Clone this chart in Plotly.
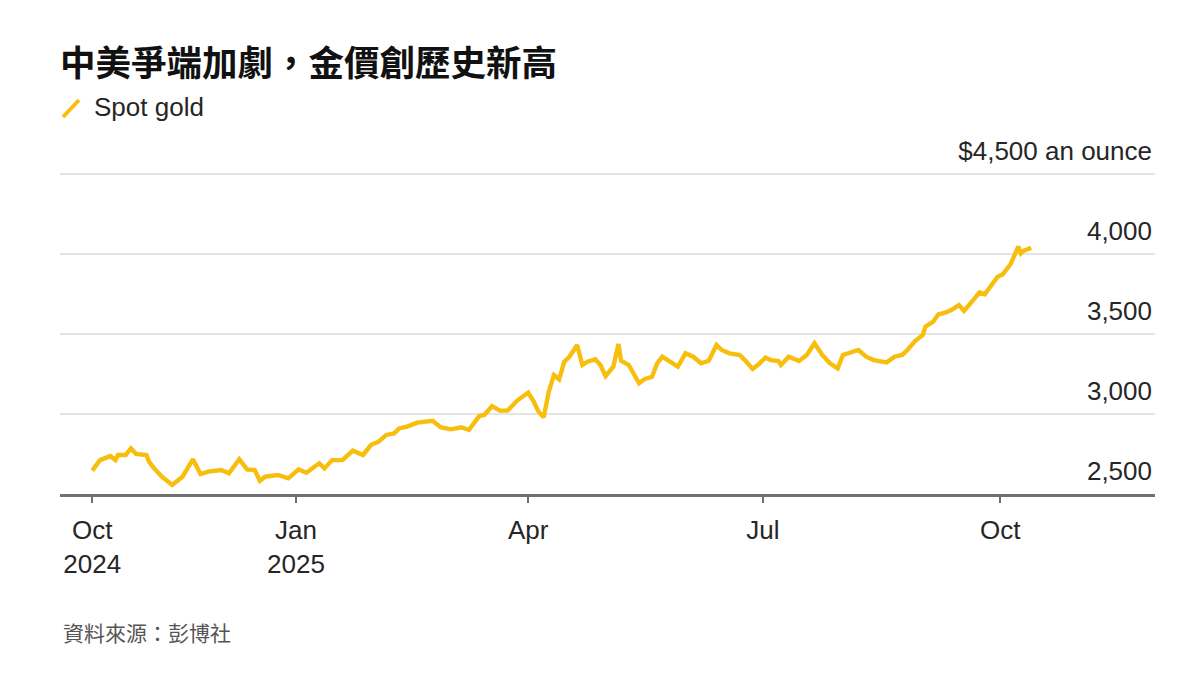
import plotly.graph_objects as go

# ---- data ----
dates = [
    "2024-10-14", "2024-10-17", "2024-10-21", "2024-10-23", "2024-10-24", "2024-10-27",
    "2024-10-29", "2024-10-31", "2024-11-04", "2024-11-05", "2024-11-07", "2024-11-10",
    "2024-11-14", "2024-11-18", "2024-11-22", "2024-11-25", "2024-11-28", "2024-12-03",
    "2024-12-06", "2024-12-10", "2024-12-13", "2024-12-16", "2024-12-18", "2024-12-20",
    "2024-12-25", "2024-12-29", "2025-01-02", "2025-01-05", "2025-01-10", "2025-01-12",
    "2025-01-15", "2025-01-19", "2025-01-23", "2025-01-27", "2025-01-30", "2025-02-02",
    "2025-02-05", "2025-02-08", "2025-02-10", "2025-02-13", "2025-02-17", "2025-02-23",
    "2025-02-26", "2025-03-02", "2025-03-06", "2025-03-09", "2025-03-13", "2025-03-15",
    "2025-03-18", "2025-03-21", "2025-03-24", "2025-03-28", "2025-04-01", "2025-04-03",
    "2025-04-05", "2025-04-07", "2025-04-09", "2025-04-11", "2025-04-13", "2025-04-15",
    "2025-04-17", "2025-04-20", "2025-04-22", "2025-04-24", "2025-04-27", "2025-04-29",
    "2025-05-01", "2025-05-04", "2025-05-06", "2025-05-07", "2025-05-10", "2025-05-12",
    "2025-05-14", "2025-05-16", "2025-05-19", "2025-05-21", "2025-05-23", "2025-05-26",
    "2025-05-29", "2025-06-01", "2025-06-04", "2025-06-07", "2025-06-10", "2025-06-13",
    "2025-06-15", "2025-06-18", "2025-06-22", "2025-06-24", "2025-06-27", "2025-06-29",
    "2025-07-02", "2025-07-04", "2025-07-07", "2025-07-08", "2025-07-11", "2025-07-15",
    "2025-07-18", "2025-07-21", "2025-07-24", "2025-07-27", "2025-07-30", "2025-08-01",
    "2025-08-04", "2025-08-07", "2025-08-10", "2025-08-13", "2025-08-15", "2025-08-18",
    "2025-08-21", "2025-08-24", "2025-08-26", "2025-08-29", "2025-09-01", "2025-09-02",
    "2025-09-05", "2025-09-07", "2025-09-10", "2025-09-12", "2025-09-15", "2025-09-17",
    "2025-09-20", "2025-09-23", "2025-09-25", "2025-09-28", "2025-09-30", "2025-10-02",
    "2025-10-05", "2025-10-08", "2025-10-09", "2025-10-10", "2025-10-13",
]
gold = [
    2646, 2712, 2737, 2712, 2744, 2744,
    2785, 2750, 2744, 2702, 2660, 2608,
    2556, 2608, 2717, 2625, 2640, 2650,
    2629, 2717, 2654, 2650, 2583, 2608,
    2619, 2598, 2654, 2633, 2692, 2660,
    2712, 2712, 2771, 2744, 2806, 2827,
    2869, 2879, 2910, 2921, 2946, 2958,
    2917, 2904, 2917, 2900, 2987, 2994,
    3050, 3021, 3021, 3087, 3133, 3083,
    3015, 2979, 3140, 3244, 3217, 3327,
    3358, 3431, 3306, 3327, 3342, 3306,
    3237, 3296, 3437, 3333, 3306, 3254,
    3192, 3217, 3233, 3317, 3358, 3327,
    3296, 3379, 3358, 3317, 3333, 3431,
    3400, 3379, 3369, 3337, 3281, 3306,
    3352, 3337, 3331, 3306, 3358, 3331,
    3369, 3442, 3369, 3317, 3285, 3369,
    3385, 3400, 3358, 3337, 3331, 3323,
    3358, 3369, 3400, 3456, 3494, 3546,
    3577, 3623, 3635, 3650, 3681, 3644,
    3702, 3760, 3748, 3810, 3858, 3873,
    3936, 4046, 4004, 4019, 4039,
]

x_tick_vals = ["2024-10-14", "2025-01-01", "2025-04-01", "2025-07-01", "2025-10-01"]
x_tick_text = ["Oct<br>2024", "Jan<br>2025", "Apr", "Jul", "Oct"]
y_tick_vals = [2500, 3000, 3500, 4000, 4500]
y_tick_text = ["2,500", "3,000", "3,500", "4,000", "$4,500 an ounce"]

title_text = "中美爭端加劇，金價創歷史新高"
series_name = "Spot gold"
source_text = "資料來源：彭博社"

# ---- layout geometry (page has an 8px body margin) ----
W, H = 1200, 675
OFF = 8
ML, MR, MT, MB = 60 - OFF, 53, 158 - OFF, 189
GOLD = "#F8BE0E"
LATIN = "Liberation Sans, Arial, Helvetica, sans-serif"
CJK = "Noto Sans CJK TC, Noto Sans CJK SC, sans-serif"


def px_x(px):
    return (px - OFF - ML) / (W - ML - MR)


def px_y(py):
    return (H - MB - (py - OFF)) / (H - MT - MB)


fig = go.Figure()
fig.add_trace(go.Scatter(
    x=dates, y=gold, mode="lines", name=series_name,
    line=dict(color=GOLD, width=4.4), showlegend=False,
))

fig.update_layout(
    width=W, height=H,
    margin=dict(l=ML, r=MR, t=MT, b=MB),
    paper_bgcolor="white", plot_bgcolor="white",
    title=dict(
        text=title_text, xref="container", yref="container",
        x=(60 - OFF) / W, xanchor="left", y=1 - (64 - OFF) / H, yanchor="middle",
        font=dict(family=CJK, size=35.5, color="#111111", weight="bold"),
    ),
    xaxis=dict(
        type="date", range=["2024-10-01 12:00", "2025-11-30"],
        tickvals=x_tick_vals, ticktext=x_tick_text,
        showgrid=False, zeroline=False,
        showline=True, linecolor="#707070", linewidth=2.5,
        ticks="outside", ticklen=6, tickwidth=1.5, tickcolor="#707070",
        ticklabelstandoff=5,
        tickfont=dict(family=LATIN, size=26, color="#262626"),
    ),
    yaxis=dict(
        range=[2500, 4600], side="right",
        tickvals=y_tick_vals, ticktext=y_tick_text,
        ticklabelposition="inside top", ticklabeloverflow="allow",
        ticklabelshift=-5,
        showgrid=True, gridcolor="#e4e4e4", gridwidth=2,
        zeroline=False, showline=False, ticks="",
        tickfont=dict(family=LATIN, size=26, color="#262626"),
    ),
    shapes=[dict(
        type="line", xref="paper", yref="paper",
        x0=px_x(63), y0=px_y(117), x1=px_x(79), y1=px_y(100),
        line=dict(color=GOLD, width=4),
    )],
    annotations=[
        dict(text=series_name, xref="paper", yref="paper",
             x=px_x(92), y=px_y(107), xanchor="left", yanchor="middle",
             showarrow=False, font=dict(family=LATIN, size=26, color="#262626")),
        dict(text=source_text, xref="paper", yref="paper",
             x=px_x(61), y=px_y(632), xanchor="left", yanchor="middle",
             showarrow=False, font=dict(family=CJK, size=21, color="#555555")),
    ],
)

fig.write_html("out.html")
